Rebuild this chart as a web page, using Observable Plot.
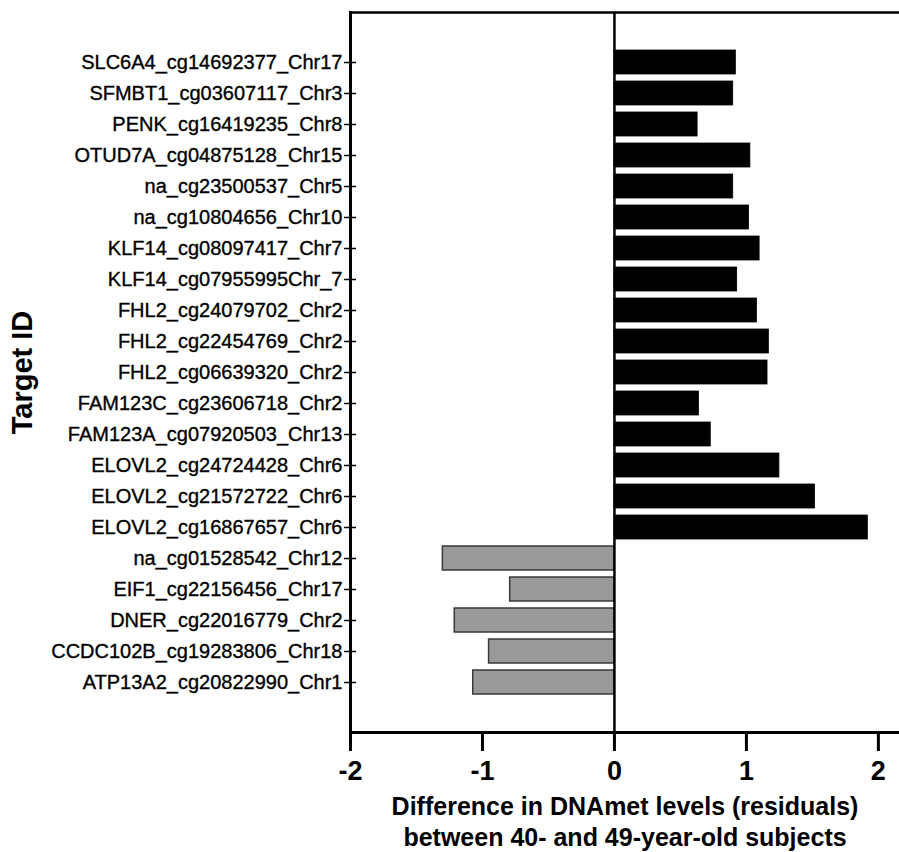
<!DOCTYPE html>
<html>
<head>
<meta charset="utf-8">
<script src="https://cdn.jsdelivr.net/npm/d3@7"></script>
<script src="https://cdn.jsdelivr.net/npm/@observablehq/plot@0.6"></script>
<style>
  html, body { margin: 0; padding: 0; background: #fff; }
  #chart { width: 899px; height: 852px; }
  /* slightly heavier target labels */
  #chart g[aria-label="y-axis tick label"] text { stroke: #000; stroke-width: 0.35px; }
</style>
</head>
<body>
<div id="chart"></div>
<script>
// CpG targets, listed top to bottom
const targets = [
  "SLC6A4_cg14692377_Chr17",
  "SFMBT1_cg03607117_Chr3",
  "PENK_cg16419235_Chr8",
  "OTUD7A_cg04875128_Chr15",
  "na_cg23500537_Chr5",
  "na_cg10804656_Chr10",
  "KLF14_cg08097417_Chr7",
  "KLF14_cg07955995Chr_7",
  "FHL2_cg24079702_Chr2",
  "FHL2_cg22454769_Chr2",
  "FHL2_cg06639320_Chr2",
  "FAM123C_cg23606718_Chr2",
  "FAM123A_cg07920503_Chr13",
  "ELOVL2_cg24724428_Chr6",
  "ELOVL2_cg21572722_Chr6",
  "ELOVL2_cg16867657_Chr6",
  "na_cg01528542_Chr12",
  "EIF1_cg22156456_Chr17",
  "DNER_cg22016779_Chr2",
  "CCDC102B_cg19283806_Chr18",
  "ATP13A2_cg20822990_Chr1"
];

// Difference in DNAmet residuals (40- vs 49-year-old subjects)
const differences = [
  0.92, 0.90, 0.63, 1.03, 0.90, 1.02, 1.10, 0.93,
  1.08, 1.17, 1.16, 0.64, 0.73, 1.25, 1.52, 1.92,
  -1.30, -0.79, -1.21, -0.95, -1.07
];

const xTicks = [-2, -1, 0, 1, 2];

const xTitle = "Difference in DNAmet levels (residuals)\nbetween 40- and 49-year-old subjects";
const yTitle = "Target ID";

const rows = targets.map((id, i) => ({id, value: differences[i]}));
const gains = rows.filter(d => d.value >= 0);
const losses = rows.filter(d => d.value < 0);

const chart = Plot.plot({
  width: 899,
  height: 852,
  marginLeft: 350,
  marginRight: 0,
  marginTop: 12,
  marginBottom: 120,
  style: {fontFamily: "'Liberation Sans', Arial, sans-serif", color: "#000", background: "#fff"},
  x: {domain: [-2, 2.16]},
  y: {domain: targets, range: [49.25, 694.8], paddingInner: 0.21, paddingOuter: 0, align: 0.5},
  marks: [
    Plot.barX(gains, {x: "value", y: "id", fill: "#000", stroke: "#000", strokeWidth: 0.8}),
    Plot.barX(losses, {x: "value", y: "id", fill: "#999999", stroke: "#3a3a3a", strokeWidth: 1.5}),
    Plot.ruleX([0], {stroke: "#000", strokeWidth: 2.5}),
    Plot.frame({anchor: "top", stroke: "#000", strokeWidth: 2.5}),
    Plot.frame({anchor: "left", stroke: "#000", strokeWidth: 3}),
    Plot.frame({anchor: "bottom", stroke: "#000", strokeWidth: 3}),
    Plot.axisY({
      label: null, tickSize: 12, dx: 6, tickPadding: 2,
      fontSize: 20, strokeWidth: 1.5
    }),
    Plot.axisX({
      ticks: xTicks, tickFormat: d => String(d), label: null,
      tickSize: 19, tickPadding: 9, strokeWidth: 3,
      fontSize: 27, fontWeight: "bold"
    }),
    Plot.text([xTitle], {
      frameAnchor: "bottom", dy: 88.5, lineAnchor: "middle", lineHeight: 1.24,
      fontSize: 25, fontWeight: "bold", fill: "#000"
    }),
    Plot.text([yTitle], {
      frameAnchor: "left", dx: -328, rotate: -90, lineAnchor: "middle", textAnchor: "middle",
      fontSize: 29, fontWeight: "bold", fill: "#000"
    })
  ]
});

document.getElementById("chart").appendChild(chart);
</script>
</body>
</html>
